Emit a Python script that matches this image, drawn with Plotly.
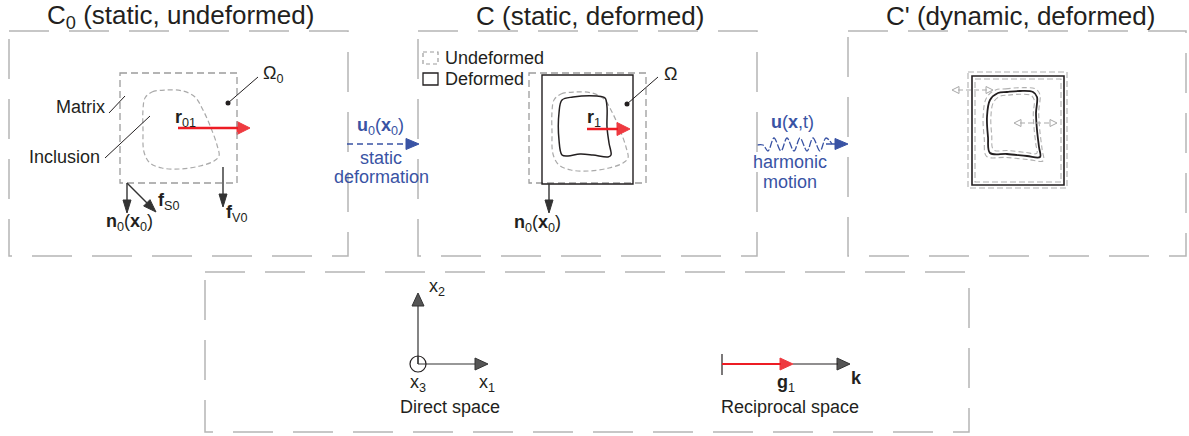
import plotly.graph_objects as go

W, H = 1189, 436
TEXT = "#231f20"
BOXGRAY = "#b5b5b5"
GRAY = "#9c9c9c"
RED = "#ed1c24"
BLUE = "#3953a4"
DARK = "#333333"
FONT = "Liberation Sans"

# ---------------- panels ----------------
panel_titles = ["C<sub>0</sub> (static, undeformed)", "C (static, deformed)", "C' (dynamic, deformed)"]
panel_title_x = [180, 590, 1020]
panel_left = [9, 418, 848]
panel_right = [348, 757, 1186]
panel_top, panel_bottom = 31, 256
bottom_panel = [205, 272, 969, 432]

# ---------------- inclusion outlines ----------------
incl0_x = [145, 152, 165, 183, 195, 203, 211, 217, 219, 214, 200, 180, 162, 150, 144, 143, 143, 145]
incl0_y = [98, 92, 90, 91, 97, 110, 128, 145, 156, 161, 166, 169, 168, 163, 152, 130, 110, 98]
incl_shift_C = 409
incl1_x = [562, 573, 597, 605, 607, 607, 609, 611, 608, 593, 580, 568, 562, 559, 559, 562]
incl1_y = [100, 97, 96, 98, 107, 127, 143, 155, 157, 155, 154, 156, 155, 140, 113, 100]
incl2_x = [998, 1007, 1020, 1033, 1037, 1036, 1037, 1039, 1040, 1027, 1007, 990, 988, 987, 990, 998]
incl2_y = [93, 92, 91, 92, 97, 113, 130, 147, 157, 156, 154, 153, 137, 117, 100, 93]

# matrix squares
matrix0 = [120, 73, 237, 183]
matrix_C_undef = [529, 73, 646, 183]
matrix_C_def = [542, 75, 633, 184]
matrixP_outer = [968, 72, 1067, 188]
matrixP_solid = [972, 76, 1064, 185]
matrixP_inner = [975, 79, 1061, 182]

# wave (harmonic motion)
wave_x = [757, 763, 768, 774, 781, 787, 794, 800, 807, 813, 820, 826, 832]
wave_y = [145, 145, 151, 138, 151, 138, 151, 138, 151, 138, 151, 138, 144]

fig = go.Figure()
shapes = []
annotations = []


def rect(b, color, width, dash=None, fill=None):
    shapes.append(dict(type="rect", x0=b[0], y0=b[1], x1=b[2], y1=b[3], xref="x", yref="y",
                       line=dict(color=color, width=width, dash=dash),
                       fillcolor=fill if fill else "rgba(0,0,0,0)"))


def line(x0, y0, x1, y1, color, width, dash=None):
    shapes.append(dict(type="line", x0=x0, y0=y0, x1=x1, y1=y1, xref="x", yref="y",
                       line=dict(color=color, width=width, dash=dash)))


def head(tx, ty, dx, dy, L, Wd, fill, outline=None):
    n = (dx * dx + dy * dy) ** 0.5
    dx, dy = dx / n, dy / n
    bx, by = tx - dx * L, ty - dy * L
    px, py = -dy, dx
    xs = [tx, bx + px * Wd / 2, bx - px * Wd / 2, tx]
    ys = [ty, by + py * Wd / 2, by - py * Wd / 2, ty]
    fig.add_trace(go.Scatter(x=xs, y=ys, mode="lines", fill="toself", fillcolor=fill,
                             line=dict(color=outline or fill, width=1), hoverinfo="skip"))


def curve(xs, ys, color, width, dash=None):
    fig.add_trace(go.Scatter(x=xs, y=ys, mode="lines", line=dict(color=color, width=width, dash=dash,
                                                                shape="spline", smoothing=1.0),
                             hoverinfo="skip"))


def text(x, y, s, size=18, color=TEXT, xanchor="center", yanchor="middle"):
    annotations.append(dict(x=x, y=y, xref="x", yref="y", text=s, showarrow=False,
                            xanchor=xanchor, yanchor=yanchor,
                            font=dict(family=FONT, size=size, color=color)))


def dot(x, y):
    fig.add_trace(go.Scatter(x=[x], y=[y], mode="markers", marker=dict(color=TEXT, size=5),
                             hoverinfo="skip"))


# outer panels and titles
for t, tx, l, r in zip(panel_titles, panel_title_x, panel_left, panel_right):
    rect([l, panel_top, r, panel_bottom], BOXGRAY, 1.5, dash="40px,20px")
    text(tx, 16, t, size=26)
rect(bottom_panel, BOXGRAY, 1.5, dash="40px,20px")

# ---------- panel C0 ----------
rect(matrix0, GRAY, 1.3, dash="7px,4px")
curve(incl0_x, incl0_y, "#aaaaaa", 1.2, dash="5px,3px")
line(178, 128, 238, 128, RED, 2.5)
head(250, 128, 1, 0, 13, 13, "#ee3a40")
text(173, 118, "<b>r</b><sub>01</sub>", xanchor="left")
dot(228, 103)
line(228, 103, 258, 77, TEXT, 1)
text(261, 74, "Ω<sub>0</sub>", xanchor="left")
line(109, 113, 125, 96, TEXT, 1)
text(107, 107, "Matrix", xanchor="right")
line(105, 158, 150, 116, TEXT, 1)
text(102, 157, "Inclusion", xanchor="right")
# normal and forces
line(127, 183, 127, 201, DARK, 1.4)
head(127, 213, 0, 1, 13, 8, DARK)
line(127, 183, 147, 203, DARK, 1.4)
head(156, 212, 1, 1, 13, 9, DARK)
line(223, 167, 223, 195, DARK, 1.4)
head(223, 207, 0, 1, 13, 8, DARK)
text(129, 222, "<b>n</b><sub>0</sub>(<b>x</b><sub>0</sub>)")
text(156, 201, "<b>f</b><sub>S0</sub>", xanchor="left")
text(224, 213, "<b>f</b><sub>V0</sub>", xanchor="left")

# ---------- transition 1 ----------
line(347, 144, 407, 144, BLUE, 1.5, dash="6px,4px")
head(419, 144, 1, 0, 13, 11, BLUE)
text(380, 126, "<b>u</b><sub>0</sub>(<b>x</b><sub>0</sub>)", color=BLUE)
text(381, 158, "static", color=BLUE)
text(381, 177, "deformation", color=BLUE)

# ---------- panel C ----------
rect([423, 52, 438, 64], GRAY, 1.2, dash="4px,3px")
text(443, 58, "Undeformed", xanchor="left")
rect([423, 73, 438, 85], TEXT, 1.3)
text(443, 79, "Deformed", xanchor="left")
rect(matrix_C_undef, GRAY, 1.3, dash="7px,4px")
rect(matrix_C_def, TEXT, 1.4)
curve([x + incl_shift_C for x in incl0_x], [y + 2 for y in incl0_y], "#aaaaaa", 1.2, dash="5px,3px")
curve(incl1_x, incl1_y, TEXT, 1.5)
line(587, 129, 618, 129, RED, 2.5)
head(630, 129, 1, 0, 13, 13, "#ee3a40")
text(585, 118, "<b>r</b><sub>1</sub>", xanchor="left")
dot(627, 104)
line(627, 104, 658, 77, TEXT, 1)
text(662, 74, "Ω", xanchor="left")
line(549, 184, 549, 201, DARK, 1.4)
head(549, 213, 0, 1, 13, 8, DARK)
text(537, 223, "<b>n</b><sub>0</sub>(<b>x</b><sub>0</sub>)")

# ---------- transition 2 ----------
curve(wave_x, wave_y, BLUE, 1.3, dash="7px,2px")
line(826, 144, 835, 144, BLUE, 1.5)
head(848, 144, 1, 0, 13, 11, BLUE)
text(792, 122, "<b>u</b>(<b>x</b>,t)", color=BLUE)
text(790, 162, "harmonic", color=BLUE)
text(790, 182, "motion", color=BLUE)

# ---------- panel C' ----------
rect(matrixP_outer, "#b0b0b0", 1.1, dash="6px,3px")
rect(matrixP_solid, TEXT, 1.6)
rect(matrixP_inner, "#b0b0b0", 1.1, dash="6px,3px")
cx = sum(incl2_x[:-1]) / len(incl2_x[:-1])
cy = sum(incl2_y[:-1]) / len(incl2_y[:-1])
for off in (3.5, -3.5):
    sx = (26 + off) / 26
    sy = (33 + off) / 33
    curve([cx + (x - cx) * sx for x in incl2_x], [cy + (y - cy) * sy for y in incl2_y],
          "#b0b0b0", 1.1, dash="5px,3px")
curve(incl2_x, incl2_y, TEXT, 1.8)
for (ax0, ax1, ay) in [(952, 993, 90), (1014, 1057, 123)]:
    line(ax0 + 6, ay, ax1 - 6, ay, "#aaaaaa", 1.2, dash="5px,3px")
    head(ax1, ay, 1, 0, 7, 7, "white", "#a8a8a8")
    head(ax0, ay, -1, 0, 7, 7, "white", "#a8a8a8")

# ---------- bottom panel ----------
line(418, 364, 418, 306, DARK, 1.2)
head(418, 293, 0, -1, 13, 12, "#555555", "#333333")
line(418, 364, 475, 364, DARK, 1.2)
head(488, 364, 1, 0, 13, 12, "#555555", "#333333")
shapes.append(dict(type="circle", x0=410, y0=356, x1=426, y1=372, xref="x", yref="y",
                   line=dict(color=TEXT, width=1.2), fillcolor="rgba(0,0,0,0)"))
line(418, 356, 418, 364, DARK, 1.2)
text(427, 287, "x<sub>2</sub>", xanchor="left")
text(418, 383, "x<sub>3</sub>")
text(487, 383, "x<sub>1</sub>")
text(450, 407, "Direct space")

line(722, 354, 722, 375, TEXT, 1.2)
line(722, 364, 781, 364, RED, 1.8)
head(793, 364, 1, 0, 13, 12, "#ee3a40")
line(793, 364, 838, 364, TEXT, 1.2)
head(850, 364, 1, 0, 13, 12, "#555555", "#333333")
text(786, 383, "<b>g</b><sub>1</sub>")
text(856, 378, "<b>k</b>")
text(790, 407, "Reciprocal space")

fig.update_layout(
    width=W, height=H, margin=dict(l=0, r=0, t=0, b=0),
    paper_bgcolor="white", plot_bgcolor="white", showlegend=False,
    xaxis=dict(range=[0, W], visible=False, fixedrange=True),
    yaxis=dict(range=[H, 0], visible=False, fixedrange=True),
    shapes=shapes, annotations=annotations,
)
fig.write_html("out.html", config={"displayModeBar": False},
               post_script="document.body.style.margin='0';document.body.style.overflow='hidden';")
